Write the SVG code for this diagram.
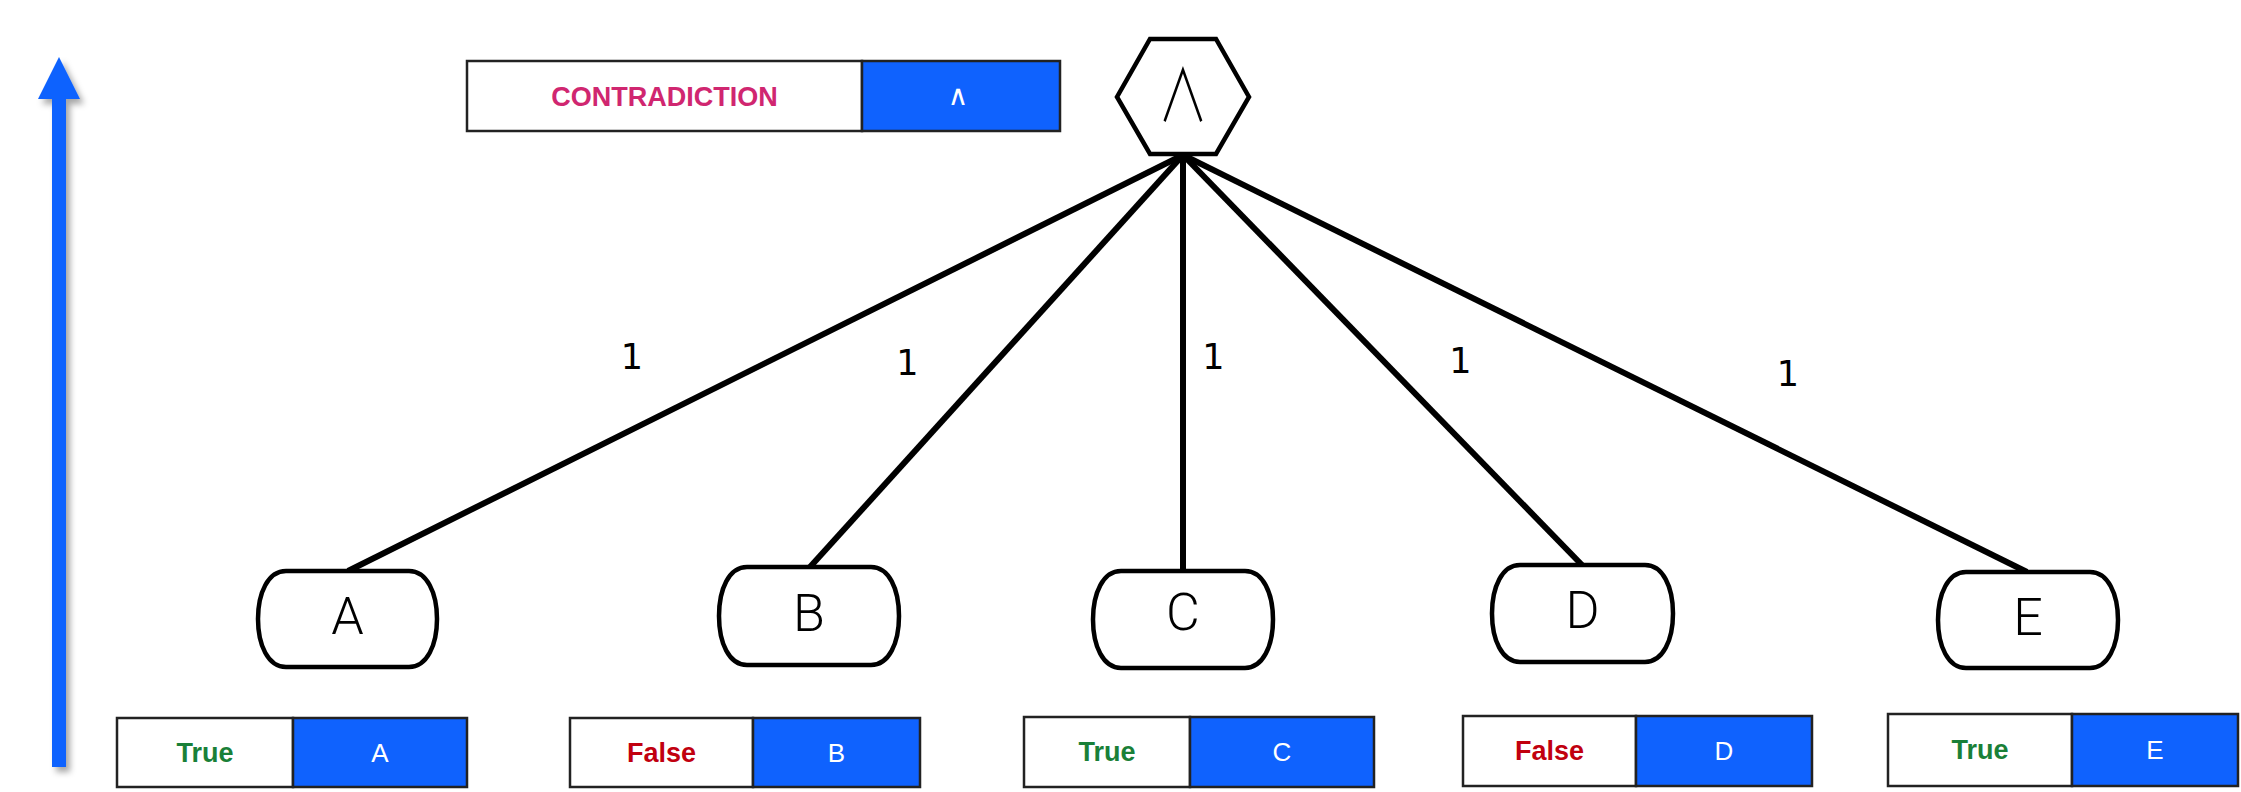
<svg xmlns="http://www.w3.org/2000/svg" width="2241" height="792" viewBox="0 0 2241 792">
<defs>
<filter id="shadow" x="-50%" y="-10%" width="200%" height="120%">
<feDropShadow dx="4" dy="5" stdDeviation="3" flood-color="#000" flood-opacity="0.35"/>
</filter>
</defs>
<style>
.node{fill:#fff;stroke:#000;stroke-width:4.5}
.letter{font-family:Roboto,"Liberation Sans",sans-serif;font-weight:300;font-size:52px;fill:#000;text-anchor:middle}
.edge{stroke:#000;stroke-width:6;fill:none}
.elabel{font-family:"DejaVu Sans",sans-serif;font-size:35px;fill:#000;text-anchor:middle}
.lbox{fill:#fff;stroke:#222;stroke-width:2.5}
.bbox{fill:#0f62fe;stroke:#222;stroke-width:2.5}
.tf{font-family:"Liberation Sans",Arial,sans-serif;font-weight:bold;font-size:27px;text-anchor:middle}
.true{fill:#198038}
.false{fill:#c1000f}
.wl{font-family:"Liberation Sans",Arial,sans-serif;font-size:26px;fill:#fff;text-anchor:middle}
</style>

<g id="arrow" filter="url(#shadow)">
<rect x="52" y="97" width="14" height="670" fill="#0f62fe"/>
<polygon points="59,57 38,99 80,99" fill="#0f62fe"/>
</g>

<g id="legend-top">
<rect class="lbox" x="467" y="61" width="395" height="70"/>
<rect class="bbox" x="862" y="61" width="198" height="70"/>
<text x="664.5" y="106" font-family="Liberation Sans,Arial,sans-serif" font-weight="bold" font-size="27" fill="#d02670" text-anchor="middle">CONTRADICTION</text>
<text x="958" y="105" font-family="DejaVu Sans,sans-serif" font-size="28" fill="#fff" text-anchor="middle">∧</text>
</g>

<g id="connectors">
<line class="edge" x1="1183" y1="155" x2="348" y2="571"/>
<line class="edge" x1="1183" y1="155" x2="810" y2="567"/>
<line class="edge" x1="1183" y1="155" x2="1183" y2="571"/>
<line class="edge" x1="1183" y1="155" x2="1582" y2="565"/>
<line class="edge" x1="1183" y1="155" x2="2027" y2="572"/>
<text class="elabel" x="632" y="369">1</text>
<text class="elabel" x="907.5" y="375">1</text>
<text class="elabel" x="1213.5" y="369">1</text>
<text class="elabel" x="1460.5" y="373">1</text>
<text class="elabel" x="1788" y="386">1</text>
</g>

<g id="node-and">
<polygon class="node" points="1150,39 1216,39 1249,97 1216,154 1150,154 1117,97"/>
<text transform="translate(1183,0) scale(0.7,1)" x="0" y="121" font-family="Noto Sans CJK JP,sans-serif" font-weight="300" font-size="72" fill="#000" text-anchor="middle">∧</text>
</g>

<g id="node-A">
<path class="node" d="M286,571 H409 C427,571 437,593 437,619 C437,645 427,667 409,667 H286 C268,667 258,645 258,619 C258,593 268,571 286,571 Z"/>
<text class="letter" x="347.5" y="634">A</text>
</g>
<g id="node-B">
<path class="node" d="M747,567 H871 C889,567 899,589 899,616 C899,643 889,665 871,665 H747 C729,665 719,643 719,616 C719,589 729,567 747,567 Z"/>
<text class="letter" x="809" y="631">B</text>
</g>
<g id="node-C">
<path class="node" d="M1121,571 H1245 C1263,571 1273,593 1273,619.5 C1273,646 1263,668 1245,668 H1121 C1103,668 1093,646 1093,619.5 C1093,593 1103,571 1121,571 Z"/>
<text class="letter" x="1183" y="630">C</text>
</g>
<g id="node-D">
<path class="node" d="M1520,565 H1645 C1663,565 1673,587 1673,613.5 C1673,640 1663,662 1645,662 H1520 C1502,662 1492,640 1492,613.5 C1492,587 1502,565 1520,565 Z"/>
<text class="letter" x="1582.5" y="628">D</text>
</g>
<g id="node-E">
<path class="node" d="M1966,572 H2090 C2108,572 2118,594 2118,620 C2118,646 2108,668 2090,668 H1966 C1948,668 1938,646 1938,620 C1938,594 1948,572 1966,572 Z"/>
<text class="letter" x="2028" y="635">E</text>
</g>

<g id="value-A">
<rect class="lbox" x="117" y="718" width="176" height="69"/>
<rect class="bbox" x="293" y="718" width="174" height="69"/>
<text class="tf true" x="205" y="762">True</text>
<text class="wl" x="380" y="762">A</text>
</g>
<g id="value-B">
<rect class="lbox" x="570" y="718" width="183" height="69"/>
<rect class="bbox" x="753" y="718" width="167" height="69"/>
<text class="tf false" x="661.5" y="762">False</text>
<text class="wl" x="836.5" y="762">B</text>
</g>
<g id="value-C">
<rect class="lbox" x="1024" y="717" width="166" height="70"/>
<rect class="bbox" x="1190" y="717" width="184" height="70"/>
<text class="tf true" x="1107" y="761">True</text>
<text class="wl" x="1282" y="761">C</text>
</g>
<g id="value-D">
<rect class="lbox" x="1463" y="716" width="173" height="70"/>
<rect class="bbox" x="1636" y="716" width="176" height="70"/>
<text class="tf false" x="1549.5" y="760">False</text>
<text class="wl" x="1724" y="760">D</text>
</g>
<g id="value-E">
<rect class="lbox" x="1888" y="714" width="184" height="72"/>
<rect class="bbox" x="2072" y="714" width="166" height="72"/>
<text class="tf true" x="1980" y="759">True</text>
<text class="wl" x="2155" y="759">E</text>
</g>
</svg>
